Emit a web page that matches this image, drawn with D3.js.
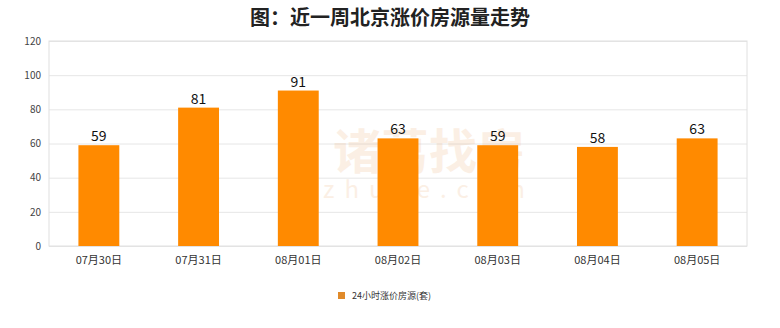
<!DOCTYPE html>
<html>
<head>
<meta charset="utf-8">
<script src="https://cdn.jsdelivr.net/npm/d3@7"></script>
<style>
  body { margin: 0; background: #fff; }
  text { font-family: "Noto Sans CJK SC", "DejaVu Sans", sans-serif; }
</style>
</head>
<body>
<svg id="chart"></svg>
<script>
const dates = ['07月30日', '07月31日', '08月01日', '08月02日', '08月03日', '08月04日', '08月05日'];
const counts = [59, 81, 91, 63, 59, 58, 63];
const yTicks = [0, 20, 40, 60, 80, 100, 120];
const seriesName = '24小时涨价房源(套)';

const width = 780, height = 328;
const margin = {top: 41, right: 33, bottom: 82, left: 49};
const innerWidth = width - margin.left - margin.right;
const innerHeight = height - margin.top - margin.bottom;

const svg = d3.select('#chart')
    .attr('width', width)
    .attr('height', height);

svg.append('text')
    .attr('x', width / 2)
    .attr('y', 25)
    .attr('text-anchor', 'middle')
    .attr('font-size', 20)
    .attr('font-weight', 'bold')
    .attr('fill', '#222')
    .text('图：近一周北京涨价房源量走势');

const g = svg.append('g')
    .attr('transform', `translate(${margin.left}, ${margin.top})`);

const xScale = d3.scaleBand()
    .domain(dates)
    .range([0, innerWidth])
    .paddingInner(0.59)
    .paddingOuter(0.295);
const yScale = d3.scaleLinear()
    .domain([0, 120])
    .range([innerHeight, 0]);

// grid lines
g.append('g')
    .call(d3.axisLeft(yScale).tickValues(yTicks).tickSize(-innerWidth).tickFormat(''))
    .call(a => a.select('.domain').remove())
    .selectAll('line').attr('stroke', '#e6e6e6');

g.append('rect')
    .attr('width', innerWidth)
    .attr('height', innerHeight)
    .attr('fill', 'none')
    .attr('stroke', '#e0e0e0');

// watermark
const wm = g.append('g').attr('opacity', 0.16).attr('fill', '#e8a060');
wm.append('text')
    .attr('x', 380)
    .attr('y', 128)
    .attr('text-anchor', 'middle')
    .attr('font-size', 48)
    .attr('font-weight', 'bold')
    .text('诸葛找房');
wm.append('text')
    .attr('x', 380)
    .attr('y', 157)
    .attr('text-anchor', 'middle')
    .attr('font-size', 24)
    .attr('letter-spacing', 10)
    .text('zhuge.com');

const yAxis = g.append('g')
    .call(d3.axisLeft(yScale).tickValues(yTicks).tickSize(0).tickPadding(8));
yAxis.select('.domain').remove();
yAxis.selectAll('text').attr('font-size', 10).attr('fill', '#444')
    .attr('font-family', '"DejaVu Sans", sans-serif');

const xAxis = g.append('g')
    .attr('transform', `translate(0,${innerHeight})`)
    .call(d3.axisBottom(xScale).tickSize(0).tickPadding(10));
xAxis.select('.domain').remove();
xAxis.selectAll('text').attr('font-size', 11).attr('fill', '#333');

g.selectAll('rect.bar').data(counts)
    .enter().append('rect')
        .attr('class', 'bar')
        .attr('x', (d, i) => xScale(dates[i]))
        .attr('y', d => yScale(d))
        .attr('width', xScale.bandwidth())
        .attr('height', d => innerHeight - yScale(d))
        .attr('fill', '#ff8a00');

g.selectAll('text.label').data(counts)
    .enter().append('text')
        .attr('class', 'label')
        .attr('x', (d, i) => xScale(dates[i]) + xScale.bandwidth() / 2)
        .attr('y', d => yScale(d) - 4)
        .attr('text-anchor', 'middle')
        .attr('font-size', 14)
        .attr('fill', '#111')
        .attr('font-family', '"DejaVu Sans", sans-serif')
        .text(d => d);

// legend
const legend = svg.append('g').attr('transform', 'translate(338, 296)');
legend.append('rect')
    .attr('x', 0).attr('y', -4)
    .attr('width', 7).attr('height', 7)
    .attr('fill', '#e08a2a');
legend.append('text')
    .attr('x', 14).attr('y', 0)
    .attr('dy', '0.35em')
    .attr('font-size', 9)
    .attr('fill', '#333')
    .text(seriesName);
</script>
</body>
</html>
